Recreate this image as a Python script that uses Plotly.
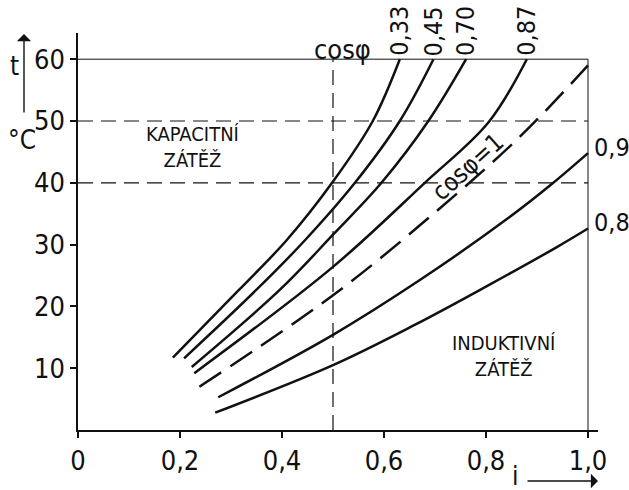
import plotly.graph_objects as go

# Heating of the transformer (t, degC) against relative load current i
# for several power factors cos(phi)
cos_labels = ["0,33", "0,45", "0,70", "0,87", "1", "0,9", "0,8"]

i_033 = [0.186, 0.316, 0.409, 0.500, 0.578, 0.631]
t_033 = [11.7, 22.7, 30.7, 40.2, 50.0, 60.0]

i_045 = [0.208, 0.350, 0.445, 0.543, 0.631, 0.697]
t_045 = [11.6, 22.7, 30.7, 40.0, 50.0, 60.0]

i_070 = [0.223, 0.396, 0.500, 0.595, 0.687, 0.761]
t_070 = [10.2, 22.7, 31.6, 40.0, 50.0, 60.0]

i_087 = [0.228, 0.500, 0.680, 0.805, 0.880]
t_087 = [9.2, 26.4, 40.0, 49.8, 60.0]

i_100 = [0.238, 0.500, 0.700, 0.867, 1.000]
t_100 = [7.0, 21.8, 35.2, 47.5, 59.0]

i_090 = [0.275, 0.500, 0.671, 0.847, 0.929, 1.000]
t_090 = [5.3, 15.4, 24.3, 34.5, 39.8, 44.8]

i_080 = [0.269, 0.500, 0.660, 0.800, 0.939, 1.000]
t_080 = [2.8, 10.5, 17.0, 23.2, 29.6, 32.6]

x_ticks = [0, 0.2, 0.4, 0.6, 0.8, 1.0]
x_ticktext = ["0", "0,2", "0,4", "0,6", "0,8", "1,0"]
y_ticks = [10, 20, 30, 40, 50, 60]
y_ticktext = ["10", "20", "30", "40", "50", "60"]

grid_t = [40, 50]      # dashed horizontal guides
grid_i = [0.5]         # dashed vertical guide
t_top = 60
i_right = 1.0

INK = "#111111"
FONT = "DejaVu Sans Condensed, DejaVu Sans, sans-serif"

W, H = 629, 490
ML, MR, MT, MB = 78, 31, 33, 60
PX_PER_I = 510.0   # pixels per unit of i
PX_PER_T = 6.18    # pixels per degree

fig = go.Figure()

solid = [(i_033, t_033), (i_045, t_045), (i_070, t_070), (i_087, t_087),
         (i_090, t_090), (i_080, t_080)]
for xs, ys in solid:
    fig.add_trace(go.Scatter(x=xs, y=ys, mode="lines",
                             line=dict(color=INK, width=2.5, shape="spline"),
                             hoverinfo="skip", showlegend=False))

fig.add_trace(go.Scatter(x=i_100, y=t_100, mode="lines",
                         line=dict(color=INK, width=2.5, shape="spline",
                                   dash="26px,11px"),
                         hoverinfo="skip", showlegend=False))

# frame: top line at 60 degC and right line at i = 1.0
fig.add_shape(type="line", x0=0, x1=i_right, y0=t_top, y1=t_top,
              line=dict(color=INK, width=1))
fig.add_shape(type="line", x0=i_right, x1=i_right, y0=0, y1=t_top,
              line=dict(color=INK, width=1))
for g in grid_t:
    fig.add_shape(type="line", x0=0, x1=i_right, y0=g, y1=g,
                  line=dict(color=INK, width=1.2, dash="15px,8px"))
for g in grid_i:
    fig.add_shape(type="line", x0=g, x1=g, y0=0, y1=t_top,
                  line=dict(color=INK, width=1.2, dash="15px,8px"))

ann = []
# power factor labels at the top ends of the steep curves
for xs, lab in zip([i_033, i_045, i_070, i_087], cos_labels[:4]):
    ann.append(dict(x=xs[-1], y=t_top + 0.2, text=lab, textangle=-90,
                    xanchor="center", yanchor="bottom", showarrow=False,
                    font=dict(size=25, family=FONT, color=INK)))
ann.append(dict(x=0.518, y=61.6, text="cos\u03c6", showarrow=False,
                font=dict(size=27, family=FONT, color=INK)))
# labels at the right ends of the flat curves
for xs, ys, lab in [(i_090, t_090, cos_labels[5]), (i_080, t_080, cos_labels[6])]:
    ann.append(dict(x=xs[-1] + 0.008, y=ys[-1] + 0.9, text=lab,
                    xanchor="left", yanchor="middle", showarrow=False,
                    font=dict(size=25, family=FONT, color=INK)))
ann.append(dict(x=0.765, y=42.6, text="cos\u03c6=" + cos_labels[4], textangle=-42,
                showarrow=False, font=dict(size=25, family=FONT, color=INK)))

ann.append(dict(x=0.225, y=45.8, text="KAPACITNÍ<br>ZÁTĚŽ", showarrow=False,
                font=dict(size=20, family=FONT, color=INK)))
ann.append(dict(x=0.835, y=12.0, text="INDUKTIVNÍ<br>ZÁTĚŽ", showarrow=False,
                font=dict(size=20, family=FONT, color=INK)))

# axis names with arrows (paper coordinates, outside the plotting area)
plot_w = W - ML - MR
plot_h = H - MT - MB


def px_to_paper(px, py):
    return (px - ML) / plot_w, (H - MB - py) / plot_h


def name_label(px, py, text):
    x, y = px_to_paper(px, py)
    return dict(xref="paper", yref="paper", x=x, y=y, text=text,
                xanchor="center", yanchor="middle", showarrow=False,
                font=dict(size=26, family=FONT, color=INK))


def name_arrow(px, py, dx, dy):
    x, y = px_to_paper(px, py)
    return dict(xref="paper", yref="paper", x=x, y=y, ax=dx, ay=dy, text="",
                showarrow=True, arrowhead=1, arrowsize=1.7, arrowwidth=1.4,
                arrowcolor=INK)


ann.append(name_label(14, 66, "t"))
ann.append(name_arrow(24, 34, 0, 80))
ann.append(name_label(22, 140, "°C"))
ann.append(name_label(515, 476, "i"))
ann.append(name_arrow(598, 481, -72, 0))

fig.update_layout(
    width=W, height=H,
    margin=dict(l=ML, r=MR, t=MT, b=MB, pad=0),
    paper_bgcolor="white", plot_bgcolor="white",
    annotations=ann,
    xaxis=dict(range=[0, plot_w / PX_PER_I], tickvals=x_ticks, ticktext=x_ticktext,
               showgrid=False, zeroline=False, showline=True, linecolor=INK,
               linewidth=1.5, ticks="outside", ticklen=6, tickwidth=1.5,
               tickcolor=INK, tickfont=dict(size=27, family=FONT, color=INK)),
    yaxis=dict(range=[0, plot_h / PX_PER_T], tickvals=y_ticks, ticktext=y_ticktext,
               showgrid=False, zeroline=False, showline=True, linecolor=INK,
               linewidth=1.5, ticks="outside", ticklen=6, tickwidth=1.5,
               tickcolor=INK, tickfont=dict(size=27, family=FONT, color=INK)),
)

fig.write_html("out.html")
